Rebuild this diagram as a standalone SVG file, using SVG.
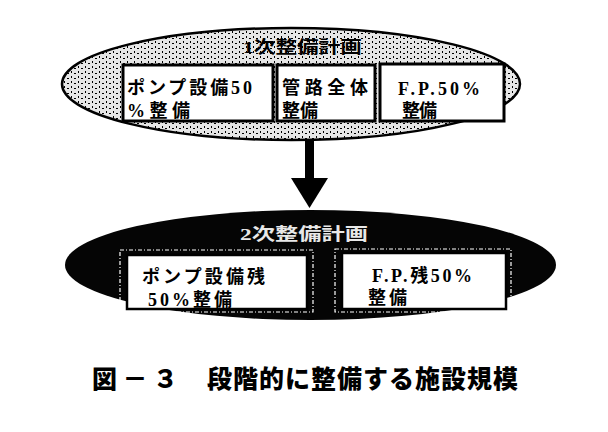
<svg xmlns="http://www.w3.org/2000/svg" width="608" height="432" viewBox="0 0 608 432">
<defs>
<pattern id="stip" width="7" height="5" patternUnits="userSpaceOnUse">
<rect width="7" height="5" fill="#e6e6e6"/>
<rect x="1" y="1" width="1" height="2" fill="#000"/>
<rect x="4" y="3" width="2" height="1" fill="#000"/>
</pattern>
</defs>
<style>
.box{fill:#fff;stroke:#000;stroke-width:3}
.box2{fill:#fff;stroke:#000;stroke-width:2.5}
.frame{fill:none;stroke:#fff;stroke-width:1.2;stroke-dasharray:4 2 1 2}
.t{font-family:"Liberation Serif","Noto Sans CJK JP",serif;font-weight:bold;font-size:18px;fill:#000}
.ttl{font-family:"Liberation Serif","Noto Sans CJK JP",serif;font-weight:bold;font-size:17px}
.cap{font-family:"Noto Sans CJK JP",sans-serif;font-weight:900;font-size:25px;fill:#000}
</style>
<rect width="608" height="432" fill="#fff"/>

<g id="plan1">
<ellipse cx="291" cy="84" rx="229" ry="56" fill="url(#stip)" stroke="#000" stroke-width="2.5"/>
<text class="ttl" x="243" y="53" textLength="119" lengthAdjust="spacingAndGlyphs" fill="#000">1次整備計画</text>
</g>

<g id="box-pump50">
<rect class="box" x="123" y="65" width="150" height="56"/>
<text class="t" x="127" y="94" textLength="125">ポンプ設備50</text>
<text class="t" x="127" y="117" textLength="63">%整備</text>
</g>

<g id="box-pipe">
<rect class="box" x="277" y="65" width="98" height="56"/>
<text class="t" x="282" y="94" textLength="86">管路全体</text>
<text class="t" x="282" y="117" textLength="36">整備</text>
</g>

<g id="box-fp50">
<rect class="box" x="380" y="64" width="124" height="57"/>
<text class="t" x="398" y="95" textLength="82">F.P.50%</text>
<text class="t" x="402" y="117" textLength="35">整備</text>
</g>

<g id="connectors">
<rect x="305" y="139" width="9" height="41" fill="#000"/>
<polygon points="291,178 328,178 309.5,208" fill="#000"/>
</g>

<g id="plan2">
<ellipse cx="310.5" cy="265" rx="245.5" ry="55" fill="#050505"/>
<text class="ttl" x="240" y="240" textLength="128" lengthAdjust="spacingAndGlyphs" fill="#e8e8e8">2次整備計画</text>
</g>

<g id="box-pump-rest">
<rect class="frame" x="120" y="250" width="193" height="62"/>
<rect class="box2" x="127" y="255" width="180" height="54"/>
<text class="t" x="142" y="283" textLength="123">ポンプ設備残</text>
<text class="t" x="148" y="306" textLength="84">50%整備</text>
</g>

<g id="box-fp-rest">
<rect class="frame" x="335" y="249" width="176" height="63"/>
<rect class="box2" x="342" y="253" width="164" height="56"/>
<text class="t" x="372" y="282" textLength="100">F.P.残50%</text>
<text class="t" x="368" y="304" textLength="39">整備</text>
</g>

<g id="caption">
<text class="cap" x="92" y="388" textLength="86">図－３</text>
<text class="cap" x="207" y="388" textLength="311">段階的に整備する施設規模</text>
</g>
</svg>
